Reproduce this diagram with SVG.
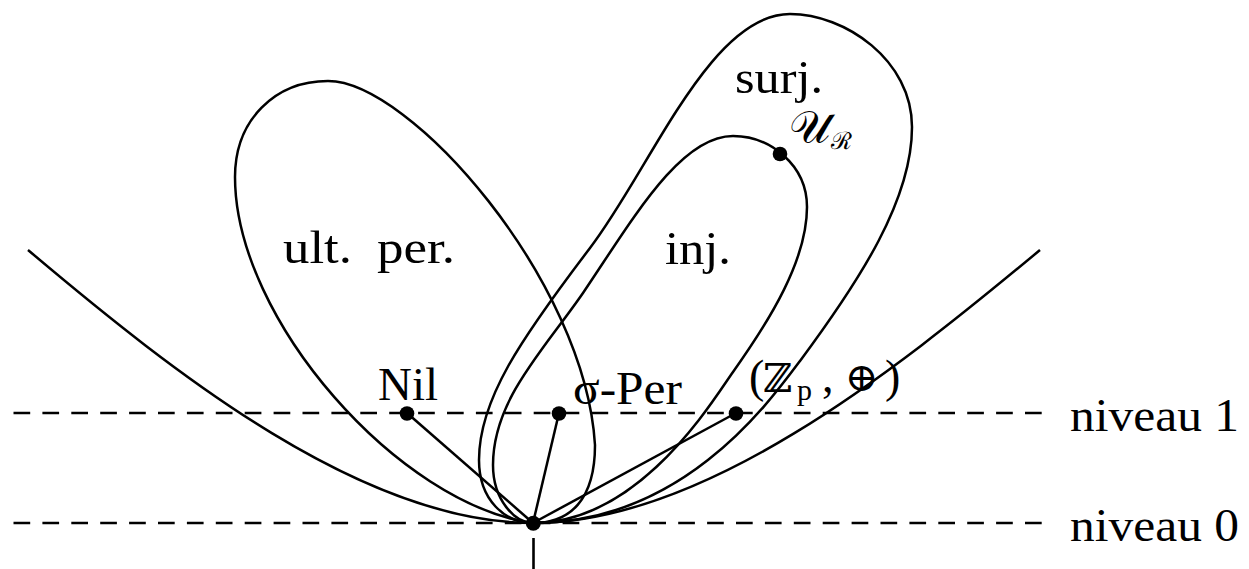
<svg xmlns="http://www.w3.org/2000/svg" width="1249" height="569" viewBox="0 0 1249 569">
<style>
.c{fill:none;stroke:#000;stroke-width:2.5;stroke-linejoin:round}
.d{fill:none;stroke:#000;stroke-width:2.6;stroke-dasharray:16.7 12.2}
.t{font-family:"Liberation Serif","DejaVu Serif",serif;font-size:46px;fill:#000}
.dot{fill:#000}
</style>
<rect width="1249" height="569" fill="#fff"/>
<g id="levels">
<line class="d" x1="13.5" y1="413" x2="1042" y2="413"/>
<line class="d" x1="13.5" y1="523" x2="1042" y2="523"/>
<line x1="533.5" y1="538" x2="533.5" y2="569" stroke="#000" stroke-width="2.6"/>
<text class="t" x="1070" y="431" textLength="169" lengthAdjust="spacingAndGlyphs">niveau 1</text>
<text class="t" x="1070" y="541" textLength="169" lengthAdjust="spacingAndGlyphs">niveau 0</text>
</g>
<g id="parabola">
<path class="c" d="M28,250 C176,375 363,523 533,523 C703,523 890,375 1040,250"/>
</g>
<g id="lobe-ult-per">
<path class="c" d="M533,523 C400,505 235,320 235,177 C235,120 275,81 328,81 C410,81 585,280 595,445 C595,500 570,523 533,523 Z"/>
<text class="t" x="283" y="263" textLength="69" lengthAdjust="spacingAndGlyphs">ult.</text>
<text class="t" x="377" y="263" textLength="78" lengthAdjust="spacingAndGlyphs">per.</text>
</g>
<g id="lobe-surj">
<path class="c" d="M533,523 C505,523 479,500 479,460 C479,400 520,340 590,248 C650,170 710,14 790,14 C845,14 912,60 912,127 C912,200 860,280 800,361 C765,408 680,523 533,523 Z"/>
<text class="t" x="735" y="93" textLength="88" lengthAdjust="spacingAndGlyphs">surj.</text>
</g>
<g id="lobe-inj">
<path class="c" d="M533,523 C515,523 493,500 493,465 C493,400 543,351 583,293 C633,219 680,136 733,136 C770,136 807,165 807,207 C807,260 770,320 733,372 C713,400 640,523 533,523 Z"/>
<text class="t" x="665" y="264" textLength="66" lengthAdjust="spacingAndGlyphs">inj.</text>
</g>
<g id="connectors">
<line class="c" x1="407" y1="413" x2="533" y2="523"/>
<line class="c" x1="559" y1="413" x2="533" y2="523"/>
<line class="c" x1="736" y1="413" x2="533" y2="523"/>
</g>
<g id="node-origin">
<circle class="dot" cx="533.3" cy="523.3" r="7.5"/>
</g>
<g id="node-nil">
<circle class="dot" cx="407" cy="413.5" r="7.3"/>
<text class="t" x="378" y="400" textLength="60" lengthAdjust="spacingAndGlyphs">Nil</text>
</g>
<g id="node-sigma-per">
<circle class="dot" cx="559" cy="413.5" r="7.3"/>
<text class="t" x="573" y="404" textLength="109" lengthAdjust="spacingAndGlyphs">σ-Per</text>
</g>
<g id="node-zp">
<circle class="dot" cx="736" cy="413.5" r="7.3"/>
<text class="t" x="749" y="392">(<tspan x="763" font-family="DejaVu Serif" font-size="40">ℤ</tspan><tspan x="797" y="400" font-size="30">p</tspan><tspan x="822" y="392">,</tspan><tspan x="845" y="391" font-family="DejaVu Serif" font-size="40">⊕</tspan><tspan x="885" y="392">)</tspan></text>
</g>
<g id="node-ur">
<circle class="dot" cx="780" cy="154" r="7.3"/>
<text class="t" x="789" y="143" font-size="27">𝒰<tspan dx="1" dy="6" font-size="24">ℛ</tspan></text>
</g>
</svg>
